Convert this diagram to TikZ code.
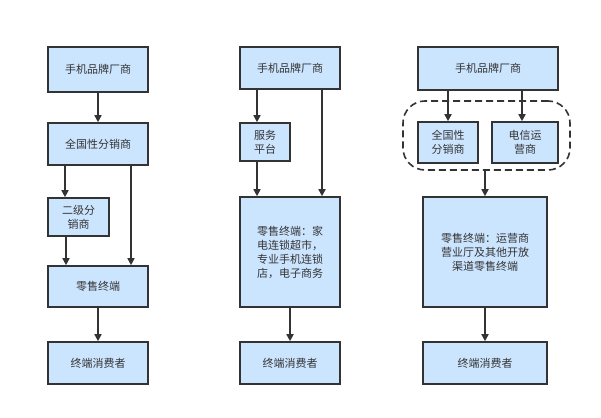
\documentclass[tikz,border=0pt]{standalone}
\usepackage{fontspec}
\setmainfont{Noto Sans CJK SC}
\usetikzlibrary{arrows.meta}
\definecolor{bx}{HTML}{CCE5FF}
\definecolor{ln}{HTML}{333333}
\begin{document}
\begin{tikzpicture}[x=1pt,y=-1pt,
 b/.style={draw=ln,line width=1.6pt,fill=bx,inner sep=0pt,font=\fontsize{11}{14}\selectfont,text=ln,align=center},
 a/.style={draw=ln,line width=1.6pt,-{Triangle[length=7pt,width=7pt]}}]
\useasboundingbox (0,0) rectangle (601,417);
\newcommand\bx[6]{\node[b,minimum width=#3-#2,minimum height=#5-#4] (#1) at ({(#2+#3)/2},{(#4+#5)/2}) {#6};}
% column 1
\bx{a1}{48}{148}{47}{92}{手机品牌厂商}
\bx{a2}{48}{148}{123}{165}{全国性分销商}
\bx{a3}{48}{109}{198}{236}{二级分\\销商}
\bx{a4}{48}{148}{266}{307}{零售终端}
\bx{a5}{48}{148}{342}{384}{终端消费者}
\draw[a] (a1) -- (a2);
\draw[a] (a2.south -| 65,0) -- (a3.north -| 65,0);
\draw[a] (a2.south -| 131,0) -- (a4.north -| 131,0);
\draw[a] (a3.south -| 66,0) -- (a4.north -| 66,0);
\draw[a] (a4) -- (a5);
% column 2
\bx{b1}{240}{340}{47}{89}{手机品牌厂商}
\bx{b2}{240}{290}{123}{161}{服务\\平台}
\node[b,minimum width=100,minimum height=110,align=left] (b3) at (290,252) {零售终端：家\\电连锁超市，\\专业手机连锁\\店，电子商务};
\bx{b4}{240}{340}{342}{384}{终端消费者}
\draw[a] (b1.south -| 257,0) -- (b2.north -| 257,0);
\draw[a] (b1.south -| 322,0) -- (b3.north -| 322,0);
\draw[a] (b2.south -| 257,0) -- (b3.north -| 257,0);
\draw[a] (b3) -- (b4);
% column 3
\bx{c1}{418}{558}{47}{90}{手机品牌厂商}
\node[draw=ln,line width=1.6pt,dash pattern=on 7pt off 4pt,rounded corners=22pt,minimum width=167,minimum height=69] (g) at (486.5,135.5) {};
\bx{c2}{418}{478}{122}{163}{全国性\\分销商}
\bx{c3}{492}{558}{122}{163}{电信运\\营商}
\bx{c4}{423}{547}{197}{307}{零售终端：运营商\\营业厅及其他开放\\渠道零售终端}
\bx{c5}{423}{547}{342}{384}{终端消费者}
\draw[a] (c1.south -| 448,0) -- (c2.north -| 448,0);
\draw[a] (c1.south -| 522,0) -- (c3.north -| 522,0);
\draw[a] (g.south -| 485,0) -- (c4.north -| 485,0);
\draw[a] (c4) -- (c5);
\end{tikzpicture}
\end{document}
